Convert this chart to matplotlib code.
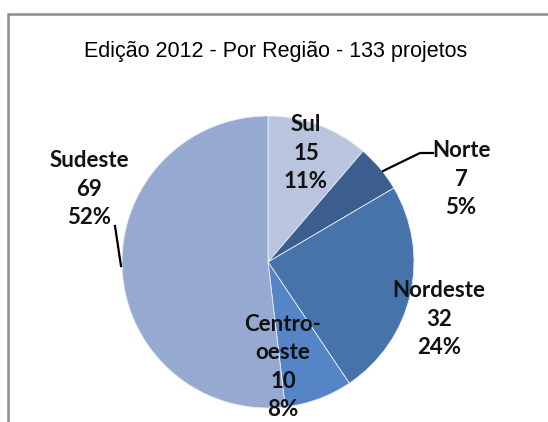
import numpy as np
import matplotlib.pyplot as plt
from matplotlib.patches import Rectangle

regions = ["Sul", "Norte", "Nordeste", "Centro-\noeste", "Sudeste"]
projetos = [15, 7, 32, 10, 69]
cores = ["#b9c5df", "#3c5e8e", "#4674aa", "#5585c6", "#95a9d1"]
titulo = "Edição 2012 - Por Região - 133 projetos"

# label positions in pixel space (x, y from top)
label_pos = [(306, 153), (461, 179), (439, 319), (283, 367), (89, 189)]

W, H = 548, 422
fig = plt.figure(figsize=(W / 100, H / 100), dpi=100)
ax = fig.add_axes([0, 0, 1, 1])

total = sum(projetos)
ax.pie(projetos, colors=cores, startangle=90, counterclock=False,
       center=(268, H - 262), radius=146,
       wedgeprops=dict(edgecolor="#e8ecf4", linewidth=0.6))

ax.set_xlim(0, W)
ax.set_ylim(0, H)
ax.set_aspect("equal")
ax.axis("off")

for nome, v, (px, py) in zip(regions, projetos, label_pos):
    pct = round(100 * v / total)
    ax.text(px, H - py, f"{nome}\n{v}\n{pct}%", ha="center", va="center",
            fontsize=16, family="Lato", fontweight="bold",
            linespacing=1.42, color="#111111")

# leader lines
ax.plot([383, 420, 433], [H - 171, H - 153, H - 153], color="black", lw=1.6)
ax.plot([115, 121], [H - 226, H - 266], color="black", lw=1.6)

ax.text(276, H - 52, titulo, ha="center", va="center", fontsize=15.5,
        family="Liberation Sans", color="black")

fig.patches.append(Rectangle((8 / W, -0.1), 1.2, (H - 14) / H + 0.1,
                             transform=fig.transFigure, fill=False,
                             edgecolor="#8c8c8c", linewidth=1.8))

fig.savefig("out.png", dpi=100)
